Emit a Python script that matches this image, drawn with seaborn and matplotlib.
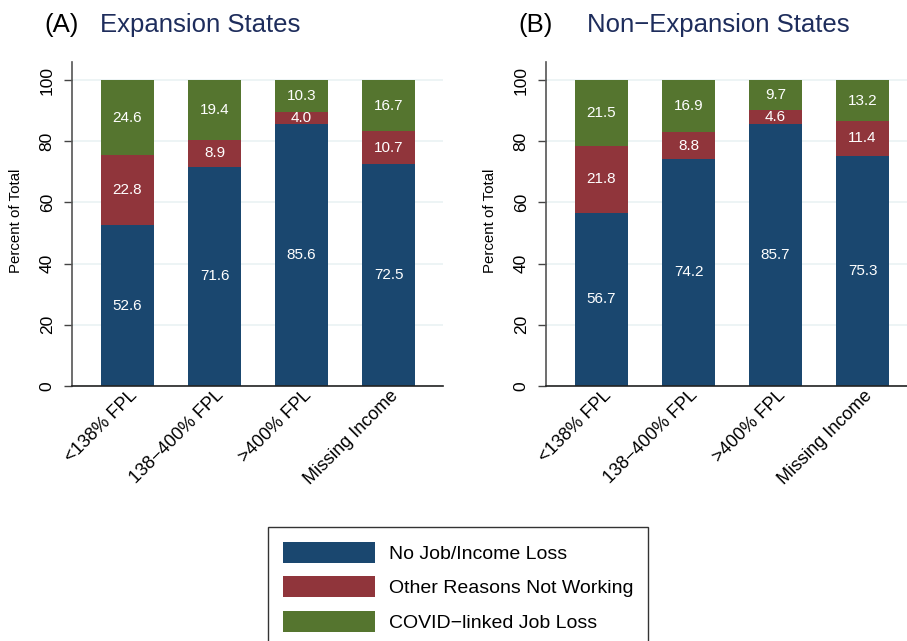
import matplotlib
matplotlib.use("Agg")
import matplotlib.pyplot as plt
from matplotlib.patches import Patch
import matplotlib.transforms as mtransforms
import seaborn as sns
import numpy as np
import pandas as pd

categories = ["<138% FPL", "138\u2212400% FPL", ">400% FPL", "Missing Income"]
series_names = ["No Job/Income Loss", "Other Reasons Not Working", "COVID\u2212linked Job Loss"]

exp_nojob = [52.6, 71.6, 85.6, 72.5]
exp_other = [22.8, 8.9, 4.0, 10.7]
exp_covid = [24.6, 19.4, 10.3, 16.7]

non_nojob = [56.7, 74.2, 85.7, 75.3]
non_other = [21.8, 8.8, 4.6, 11.4]
non_covid = [21.5, 16.9, 9.7, 13.2]

panel_letters = ["(A)", "(B)"]
panel_titles = ["Expansion States", "Non\u2212Expansion States"]
yticks = [0, 20, 40, 60, 80, 100]

colors = ["#1a476f", "#90353b", "#55752f"]

sns.set_theme(style="white")
plt.rcParams["font.family"] = ["Liberation Sans", "DejaVu Sans"]
plt.rcParams["text.color"] = "black"
plt.rcParams["axes.labelcolor"] = "black"
plt.rcParams["xtick.color"] = "black"
plt.rcParams["ytick.color"] = "black"

W, H = 907, 641
fig = plt.figure(figsize=(W / 100, H / 100), dpi=100)

def fx(px):
    return px / W

def fy(py):
    return 1 - py / H

axes_px = [(72, 443), (546, 917)]
top_px, bot_px = 62, 386

panels = [(exp_nojob, exp_other, exp_covid), (non_nojob, non_other, non_covid)]

for i, (vals, (l, r)) in enumerate(zip(panels, axes_px)):
    ax = fig.add_axes([fx(l), fy(bot_px), fx(r) - fx(l), fy(top_px) - fy(bot_px)])
    nojob, other, covid = [np.array(v) for v in vals]
    c1 = nojob
    c2 = nojob + other
    c3 = nojob + other + covid
    for y in yticks:
        ax.axhline(y, color="#eaf2f3", lw=1.2, zorder=0)
    for cum, col in zip([c3, c2, c1], colors[::-1]):
        df = pd.DataFrame({"cat": categories, "val": cum})
        sns.barplot(data=df, x="cat", y="val", color=col, width=0.61,
                    saturation=1, ax=ax, zorder=2, edgecolor="none")
    for j in range(len(categories)):
        segs = [(0, c1[j], nojob[j]), (c1[j], c2[j], other[j]), (c2[j], c3[j], covid[j])]
        for lo, hi, v in segs:
            ax.text(j, (lo + hi) / 2, f"{v:.1f}", ha="center", va="center",
                    color="white", fontsize=11, zorder=3)
    ax.set_xlim(-0.638, 3.626)
    ax.set_ylim(0, 105.9)
    ax.set_yticks(yticks)
    ax.set_yticklabels([str(t) for t in yticks], rotation=90, va="center", fontsize=12.5)
    ax.tick_params(axis="y", length=5.5, width=1, color="#444444", labelcolor="black",
                   pad=7, left=True)
    ax.tick_params(axis="x", length=0, pad=5, labelcolor="black")
    ax.set_xticks(range(len(categories)))
    ax.set_xticklabels(categories, rotation=45, ha="right", va="center",
                       rotation_mode="anchor", fontsize=13)
    off = mtransforms.ScaledTranslation(7 / 100, 0, fig.dpi_scale_trans)
    for lab in ax.get_xticklabels():
        lab.set_transform(lab.get_transform() + off)
    ax.set_xlabel("")
    ax.set_ylabel("Percent of Total", fontsize=10.8, color="black")
    ax.yaxis.set_label_coords(-0.133, 0.51)
    for s in ["top", "right"]:
        ax.spines[s].set_visible(False)
    ax.spines["left"].set_color("#555555")
    ax.spines["left"].set_linewidth(1.2)
    ax.spines["bottom"].set_color("#222222")
    ax.spines["bottom"].set_linewidth(1.2)

fig.text(fx(44), fy(32), panel_letters[0], fontsize=18.5, color="black", va="baseline", ha="left")
fig.text(fx(100), fy(32), panel_titles[0], fontsize=18.5, color="#1e2d5c", va="baseline", ha="left")
fig.text(fx(518), fy(32), panel_letters[1], fontsize=18.5, color="black", va="baseline", ha="left")
fig.text(fx(587), fy(32), panel_titles[1], fontsize=18.5, color="#1e2d5c", va="baseline", ha="left")

handles = [Patch(facecolor=c, edgecolor="none") for c in colors]
leg = fig.legend(handles, series_names, loc="upper left",
                 bbox_to_anchor=(fx(268), fy(527)), bbox_transform=fig.transFigure,
                 fontsize=14, handlelength=4.74, handleheight=1.29, labelspacing=0.7,
                 handletextpad=0.72, borderpad=0.75, borderaxespad=0, fancybox=False,
                 frameon=True)
leg.get_frame().set_edgecolor("black")
leg.get_frame().set_linewidth(1.0)
for t in leg.get_texts():
    t.set_color("black")

fig.savefig("out.png", dpi=100)
